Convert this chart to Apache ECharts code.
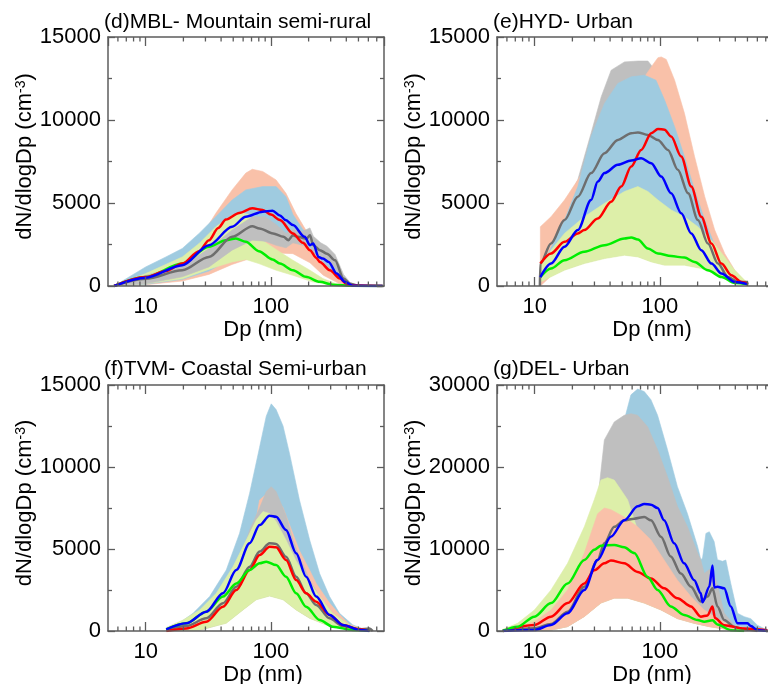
<!DOCTYPE html>
<html><head><meta charset="utf-8">
<script src="https://cdn.jsdelivr.net/npm/echarts@6/dist/echarts.min.js"></script>
<style>html,body{margin:0;padding:0;background:#fff}#c{width:768px;height:684px}</style>
</head><body><div id="c"></div>
<script>
// ---------------- DATA (Dp in nm, dN/dlogDp in cm^-3) ----------------
// (d) MBL
const mbl_red = [[5.6,0],[10,540],[14.5,900],[19.6,1350],[26.7,2100],[32,2760],[38,3500],[43.7,4000],[55.8,4400],[71,4680],[86,4580],[100,4300],[118,3970],[150,3160],[180,2600],[205,2160],[230,1700],[246,1450],[296,950],[356,450],[400,140],[450,30],[780,0]];
const mbl_blue = [[5.6,0],[10,500],[19.6,1250],[32,2460],[49,3570],[63,4170],[86,4480],[103,4540],[118,4250],[131,3970],[150,3670],[186,2960],[205,2460],[218,2560],[240,1750],[260,1650],[289,1450],[335,750],[391,240],[450,20],[780,0]];
const mbl_gray = [[5.6,0],[10,440],[19.6,950],[32,1750],[49,2960],[71,3600],[81,3470],[104,3160],[126,2960],[138,2760],[150,3060],[164,2960],[193,2860],[205,3060],[218,2460],[246,2160],[280,1950],[325,1550],[380,450],[428,140],[500,20],[780,0]];
const mbl_green = [[5.6,0],[10,540],[19.6,1350],[32,2360],[43.7,2760],[52.5,2860],[63,2660],[80,2100],[103,1600],[118,1350],[150,950],[190,550],[246,250],[311,80],[450,10],[780,0]];
const mbl_redUp = [[5.6,0],[10,750],[19.6,1750],[26.7,2760],[36.3,4380],[49,5790],[63,6800],[71,7030],[86,6900],[110,6390],[132,5580],[158,4380],[190,3370],[215,2760],[244,2000],[311,1150],[420,200],[500,0]];
const mbl_redLo = [[5.6,0],[10,80],[19.6,300],[32,700],[49,1300],[71,1700],[100,2000],[150,1950],[205,1400],[262,650],[350,150],[500,0]];
const mbl_blueUp = [[5.6,0],[10,1150],[14.5,1750],[19.6,2260],[26.7,3170],[36.3,4170],[49,5180],[63,5790],[86,5990],[110,5990],[132,5380],[150,4300],[180,3400],[205,3000],[230,2300],[270,2450],[300,1900],[340,1300],[400,200],[450,0]];
const mbl_blueLo = [[5.6,0],[10,100],[19.6,400],[32,900],[49,1700],[71,2500],[100,2800],[150,2700],[205,2300],[250,1600],[300,1000],[400,50],[450,0]];
const mbl_greenUp = [[5.6,0],[10,750],[19.6,1750],[26.7,2560],[36.3,3570],[49,4270],[58,4430],[66,4300],[75,3600],[81,2860],[118,2050],[150,1550],[205,950],[260,450],[330,140],[450,0]];
const mbl_greenLo = [[5.6,0],[10,140],[19.6,440],[36.3,1150],[49,1450],[63,1600],[80,1350],[110,950],[149,650],[215,250],[311,50],[450,0]];
const mbl_grayUp = [[5.6,0],[10,650],[19.6,1200],[32,2260],[49,3370],[71,4170],[90,4170],[110,3700],[132,3170],[150,3400],[180,3300],[205,3500],[218,3000],[250,2600],[280,2400],[325,1900],[380,700],[430,200],[500,0]];
const mbl_grayLo = [[5.6,0],[10,140],[19.6,550],[32,1150],[49,2160],[71,2760],[90,2700],[110,2450],[132,2300],[150,2600],[180,2450],[205,2600],[218,2000],[250,1700],[280,1500],[325,1100],[380,250],[430,50],[500,0]];

// (e) HYD
const hyd_red = [[11.1,1350],[13.5,1960],[17.3,2660],[22.1,3170],[24.9,3370],[31.9,4070],[40.8,5080],[49.1,5990],[59,7200],[70.9,8200],[85.3,9200],[96.4,9460],[109,9420],[123,9000],[148,7800],[178,5990],[214,4170],[258,2560],[310,1350],[372,650],[448,240],[506,140]];
const hyd_blue = [[11.1,540],[13.5,1350],[17.3,2360],[22.1,3370],[28.2,5180],[31.9,6290],[36.1,6800],[46.1,7300],[59,7560],[70.9,7700],[85.3,7400],[102.5,6590],[123,5580],[148,4380],[178,3170],[214,2160],[258,1350],[310,750],[396,240],[506,100]];
const hyd_gray = [[11.0,0],[11.1,1350],[13.5,2560],[17.3,3970],[22.1,5380],[28.2,6800],[36.1,8000],[46.1,8800],[59,9200],[66.7,9250],[80.2,9100],[96.4,8800],[116,8200],[139,7000],[168,5580],[201,3970],[242,2560],[291,1350],[350,540],[421,240],[506,240]];
const hyd_green = [[11.1,540],[13.5,1050],[17.3,1550],[24.9,2060],[36.1,2460],[52.1,2860],[59,2920],[66.7,2800],[80.2,2260],[96.4,1960],[123,1800],[157,1710],[189,1450],[242,950],[310,540],[396,180],[506,100]];
const hyd_grayUp = [[11.1,1500],[17.3,4800],[22.1,6400],[28.2,9200],[34,11400],[40.8,13000],[52.1,13500],[66.7,13550],[80.2,13550],[85.3,13300],[96.4,12700],[110,11500],[140,8500],[180,5500],[230,3000],[300,1400],[400,400],[506,100]];
const hyd_grayLo = [[11.1,300],[17.3,1000],[24.9,1400],[36.1,1700],[52.1,1900],[66.7,1800],[85.3,1500],[109,1300],[157,1300],[214,1100],[291,700],[396,260],[506,60]];
const hyd_redUp = [[11.1,3570],[13.5,4170],[17.3,5180],[22.1,6390],[24.9,7000],[30,8500],[40,10500],[50,11500],[60,12000],[75.4,12600],[85.3,13200],[96.4,13750],[102.5,13800],[112.4,13650],[131,12400],[157,10400],[189,7800],[228,5380],[274,3370],[329,1960],[396,950],[476,300],[506,150]];
const hyd_redLo = [[11.1,0],[13.5,600],[17.3,1000],[24.9,1400],[36.1,1700],[52.1,1900],[66.7,1800],[85.3,1500],[109,1300],[157,1300],[214,1100],[291,700],[396,260],[506,60]];
const hyd_blueUp = [[11.1,1000],[17.3,3970],[22.1,5990],[28.2,9000],[36.1,11000],[46.1,12200],[59,12600],[75.4,12700],[93,12400],[109,11200],[131,9600],[157,7800],[189,5790],[228,3970],[274,2460],[329,1350],[396,540],[476,200],[506,100]];
const hyd_blueLo = [[11.1,300],[17.3,1000],[24.9,1400],[36.1,1700],[52.1,1900],[66.7,1800],[85.3,1500],[109,1300],[157,1300],[214,1100],[291,700],[396,260],[506,60]];
const hyd_greenUp = [[11.1,1150],[13.5,2160],[17.3,3170],[24.9,4170],[36.1,4980],[52.1,5690],[66.7,5990],[80.2,5690],[96.4,5180],[123,4580],[157,4170],[201,3570],[258,2760],[329,1750],[396,950],[476,350],[506,200]];
const hyd_greenLo = [[11.1,240],[17.3,950],[24.9,1350],[36.1,1650],[52.1,1850],[66.7,1750],[85.3,1450],[109,1250],[157,1250],[214,1050],[291,650],[396,240],[506,50]];

// (f) TVM
const tvm_red = [[14.6,0],[21.1,160],[30.5,570],[41.4,1480],[52.9,2500],[67.6,3720],[81.2,4630],[97.6,5140],[110,5100],[132,4330],[159,3110],[191,2300],[230,1790],[294,980],[375,370],[510,100],[612,0]];
const tvm_blue = [[14.6,100],[21.1,470],[30.5,1180],[41.4,2300],[52.9,3720],[67.6,5350],[81.2,6460],[97.6,7030],[110,6970],[132,6160],[159,4740],[191,3310],[230,2100],[294,980],[375,370],[510,60],[612,0]];
const tvm_gray = [[14.6,60],[21.1,300],[30.5,770],[41.4,1690],[52.9,2700],[67.6,3920],[81.2,4840],[97.6,5350],[110,5310],[132,4530],[159,3310],[191,2300],[230,1590],[294,770],[375,300],[510,100],[612,160],[651,0]];
const tvm_green = [[14.6,100],[21.1,470],[30.5,1180],[41.4,2100],[52.9,2900],[67.6,3720],[81.2,4130],[91.8,4230],[110,4020],[132,3310],[159,2300],[191,1480],[245,670],[312,260],[451,60],[612,0]];
const tvm_blueUp = [[14.6,0],[17.6,370],[23.9,1080],[32.4,2100],[44,3720],[56.2,5960],[67.6,8400],[81.2,11200],[91.8,13100],[100.6,13850],[110,13500],[125,12500],[141,10800],[169,7990],[204,5550],[245,3500],[294,2100],[353,1080],[451,370],[576,60],[612,0]];
const tvm_blueLo = [[14.6,0],[27,80],[44,520],[59.8,1320],[76.4,1950],[97.6,2170],[125,1950],[159,1320],[204,800],[276,400],[399,110],[576,0]];
const tvm_redUp = [[14.6,0],[23.9,200],[36.6,700],[49.8,2000],[67.6,4500],[81.2,7990],[100.6,8600],[125,7500],[169,4900],[204,3700],[230,2900],[294,1700],[353,1000],[424,400],[576,50],[612,0]];
const tvm_redLo = [[14.6,0],[27,80],[44,520],[59.8,1320],[76.4,1950],[97.6,2170],[125,1950],[159,1320],[204,800],[276,400],[399,110],[576,0]];
const tvm_grayUp = [[14.6,0],[27,260],[36.6,1200],[49.8,3000],[67.6,6160],[81.2,7500],[91.8,8500],[100.6,8800],[110,8500],[132,7050],[150,5550],[169,4530],[204,3110],[245,2100],[312,1080],[424,370],[576,60],[651,0]];
const tvm_grayLo = [[14.6,0],[27,40],[44,500],[59.8,1300],[76.4,1930],[97.6,2150],[125,1930],[159,1300],[204,790],[276,390],[399,110],[576,0]];
const tvm_greenUp = [[14.6,220],[19.9,670],[27,1280],[36.6,2300],[49.8,3920],[63.6,5550],[76.4,6770],[86.4,7280],[97.6,7170],[110,6670],[132,5550],[159,4270],[191,3300],[245,2100],[312,1080],[424,370],[576,60],[651,0]];
const tvm_greenLo = [[14.6,0],[27,60],[44,470],[59.8,1280],[76.4,1900],[97.6,2130],[125,1900],[159,1280],[204,770],[276,370],[399,100],[576,0]];

// (g) DEL
const del_red = [[5.56,0],[9.94,730],[13.5,1750],[18.3,3400],[24.9,5800],[29.9,7400],[36,8250],[40.6,8600],[51.9,8250],[66.4,7200],[84.8,6400],[108,5200],[138,4000],[177,3000],[212,1750],[240,1900],[263,3000],[275,1600],[326,700],[471,300],[722,100]];
const del_blue = [[5.56,0],[9.94,120],[13.5,730],[18.3,2150],[24.9,5000],[31.8,8660],[40.6,11500],[51.9,13500],[66.4,15200],[75,15500],[84.8,15400],[95.8,15000],[108,13500],[130,10700],[156,8250],[188,6200],[212,4600],[219,3500],[248,5400],[263,8000],[272,5300],[288,5400],[326,5200],[368,3000],[417,930],[501,930],[532,600],[601,100],[722,0]];
const del_gray = [[5.56,0],[9.94,330],[13.5,850],[18.3,2360],[24.9,5400],[31.8,8660],[36,10700],[43.2,12700],[51.9,13500],[62.4,13700],[75,13900],[84.8,13500],[102,11500],[122,9100],[147,7000],[177,5400],[212,3600],[240,4200],[263,5200],[288,3000],[326,1340],[392,500],[471,200],[601,0]];
const del_green = [[5.56,0],[7.3,530],[9.94,1750],[13.5,3400],[18.3,5800],[24.9,8660],[29.9,9900],[33.8,10400],[43.2,10500],[51.9,10200],[62.4,9500],[79.8,6600],[95.8,5000],[122,3000],[156,1950],[200,1340],[226,1140],[263,1300],[288,800],[368,100],[471,0]];
const del_blueUp = [[5.56,0],[9.94,330],[13.5,930],[18.3,2150],[24.9,5000],[33.8,10300],[43.2,18400],[51.9,25700],[58.7,28800],[66.4,29500],[75,29200],[84.8,28200],[95.8,26300],[115,22100],[138,17600],[166,14300],[200,10300],[212,8700],[219,8900],[233,11900],[248,12100],[271,10900],[288,8700],[316,8500],[336,8660],[368,5800],[417,2150],[471,1750],[532,1500],[601,700],[722,100],[790,0]];
const del_blueLo = [[5.56,0],[13.5,120],[18.3,550],[24.9,1800],[33.8,3450],[43.2,4050],[55.2,4050],[75,3450],[102,2600],[138,1550],[188,960],[248,560],[368,140],[722,0]];
const del_grayUp = [[5.56,0],[13.5,400],[18.3,1300],[24.9,4000],[29.9,12000],[33.8,19500],[36,23300],[43.2,25500],[51.9,26300],[58.7,26500],[66.4,26300],[79.8,24900],[95.8,22100],[115,18800],[138,15200],[166,12700],[200,9500],[212,8660],[226,7000],[248,7500],[268,7000],[288,5600],[326,2200],[392,700],[471,300],[601,0]];
const del_grayLo = [[5.56,0],[13.5,120],[18.3,550],[24.9,1800],[33.8,3450],[43.2,4050],[55.2,4050],[75,3450],[102,2600],[138,1550],[188,960],[248,560],[368,140],[601,0]];
const del_greenUp = [[5.56,200],[7.3,930],[9.94,2560],[13.5,5000],[18.3,8250],[24.9,12700],[29.9,16000],[33.8,18400],[38.2,18700],[43.2,18400],[48.9,17200],[55.2,16000],[66.4,12300],[84.8,9500],[108,7000],[138,4500],[177,2900],[226,1800],[288,800],[392,200],[532,0]];
const del_greenLo = [[5.56,0],[13.5,120],[18.3,540],[24.9,1780],[33.8,3420],[43.2,4020],[55.2,4020],[75,3420],[102,2580],[138,1520],[188,940],[248,540],[368,130],[532,0]];
const del_redUp = [[5.56,0],[9.94,1140],[13.5,2560],[18.3,5000],[24.9,9500],[31.8,14300],[36,15000],[40.6,14800],[51.9,13900],[66.4,12700],[84.8,11100],[108,8660],[138,6200],[177,4200],[226,2560],[288,1500],[368,700],[532,300],[722,0]];
const del_redLo = [[5.56,0],[13.5,120],[18.3,530],[24.9,1750],[33.8,3400],[43.2,4000],[55.2,4000],[75,3400],[102,2560],[138,1500],[188,930],[248,530],[368,120],[722,0]];

// axis ticks
const xMin = 5, xMax = 800;
const xMajorLabels = [10, 100];
const xMinorTicks = [6,7,8,9,20,30,40,50,60,70,80,90,200,300,400,500,600,700];

// ---------------- STYLE / LAYOUT ----------------
const FONT = '"Liberation Sans", Arial, Helvetica, sans-serif';
const AXIS_COLOR = '#5c5c5c';
const LINE_COLORS = {red:'#ff0000', blue:'#0000ff', gray:'#6e6e6e', green:'#00ee00'};
const BAND_COLORS = {red:'#f9c1a9', blue:'#9fcbe0', gray:'#bfbfbf', green:'#ddefa9'};

const panels = [
  {title:'(d)MBL- Mountain semi-rural', tl:[104,12], grid:{left:108,top:37,width:276,height:249}, yMax:15000, yInt:5000,
   bands:[['red',mbl_redUp,mbl_redLo],['blue',mbl_blueUp,mbl_blueLo],['green',mbl_greenUp,mbl_greenLo],['gray',mbl_grayUp,mbl_grayLo]],
   lines:[['green',mbl_green],['gray',mbl_gray],['red',mbl_red],['blue',mbl_blue]]},
  {title:'(e)HYD- Urban', tl:[493,12], grid:{left:497,top:37,width:276,height:249}, yMax:15000, yInt:5000,
   bands:[['gray',hyd_grayUp,hyd_grayLo],['red',hyd_redUp,hyd_redLo],['blue',hyd_blueUp,hyd_blueLo],['green',hyd_greenUp,hyd_greenLo]],
   lines:[['green',hyd_green],['gray',hyd_gray],['red',hyd_red],['blue',hyd_blue]]},
  {title:'(f)TVM- Coastal Semi-urban', tl:[104,359], grid:{left:108,top:385,width:276,height:246}, yMax:15000, yInt:5000,
   bands:[['blue',tvm_blueUp,tvm_blueLo],['red',tvm_redUp,tvm_redLo],['gray',tvm_grayUp,tvm_grayLo],['green',tvm_greenUp,tvm_greenLo]],
   lines:[['gray',tvm_gray],['red',tvm_red],['green',tvm_green],['blue',tvm_blue]]},
  {title:'(g)DEL- Urban', tl:[493,359], grid:{left:497,top:385,width:276,height:246}, yMax:30000, yInt:10000,
   bands:[['blue',del_blueUp,del_blueLo],['gray',del_grayUp,del_grayLo],['green',del_greenUp,del_greenLo],['red',del_redUp,del_redLo]],
   lines:[['gray',del_gray],['red',del_red],['green',del_green],['blue',del_blue]]}
];

const tickStyle = {color:AXIS_COLOR, width:1.3};
const axisLine = {show:true, onZero:false, lineStyle:{color:AXIS_COLOR, width:1.5}};
const option = {animation:false, backgroundColor:'#fff', title:[], grid:[], xAxis:[], yAxis:[], series:[]};

panels.forEach((p, i) => {
  option.title.push({text:p.title, left:p.tl[0], top:p.tl[1], padding:0,
    textStyle:{fontFamily:FONT, fontSize:21, fontWeight:'normal', color:'#000'}});
  option.grid.push(Object.assign({containLabel:false, outerBoundsMode:'none'}, p.grid));
  option.xAxis.push({gridIndex:i, type:'log', logBase:10, min:xMin, max:xMax, position:'bottom', z:10,
    axisLine, axisTick:{inside:true, length:9, lineStyle:tickStyle},
    axisLabel:{showMinLabel:false, showMaxLabel:false, fontFamily:FONT, fontSize:22, color:'#000', margin:10,
      formatter:v => xMajorLabels.indexOf(Math.round(v)) >= 0 ? String(Math.round(v)) : ''},
    splitLine:{show:false},
    name:'Dp (nm)', nameLocation:'middle', nameGap:31,
    nameTextStyle:{fontFamily:FONT, fontSize:22, color:'#000', padding:[0,0,0,34]}});
  option.xAxis.push({gridIndex:i, type:'log', logBase:10, min:xMin, max:xMax, position:'top', z:10,
    axisLine, axisTick:{inside:true, length:9, lineStyle:tickStyle}, axisLabel:{show:false}, splitLine:{show:false}});
  option.yAxis.push({gridIndex:i, type:'value', min:0, max:p.yMax, interval:p.yInt, position:'left', z:10,
    axisLine, axisTick:{inside:true, length:7, lineStyle:tickStyle},
    minorTick:{show:true, splitNumber:2, length:4, lineStyle:tickStyle},
    axisLabel:{fontFamily:FONT, fontSize:22, color:'#000', margin:7, formatter:v => String(v)},
    splitLine:{show:false}, minorSplitLine:{show:false},
    name:'dN/dlogDp (cm{sup|-3})', nameLocation:'middle', nameGap:63,
    nameTextStyle:{fontFamily:FONT, fontSize:22, color:'#000', padding:[0,0,0,10],
      rich:{sup:{fontFamily:FONT, fontSize:14, lineHeight:14, verticalAlign:'top', color:'#000'}}}});
  option.yAxis.push({gridIndex:i, type:'value', min:0, max:p.yMax, interval:p.yInt, position:'right', z:10,
    axisLine, axisTick:{inside:true, length:7, lineStyle:tickStyle},
    minorTick:{show:true, splitNumber:2, length:4, lineStyle:tickStyle},
    axisLabel:{show:false}, splitLine:{show:false}, minorSplitLine:{show:false}});

  const xi = 2 * i, yi = 2 * i;
  p.bands.forEach(([c, up, lo]) => {
    option.series.push({type:'custom', xAxisIndex:xi, yAxisIndex:yi, silent:true, z:2, clip:true,
      data:[up[0]], encode:{x:0, y:1},
      renderItem:(params, api) => {
        const pts = up.map(d => api.coord(d)).concat(lo.slice().reverse().map(d => api.coord(d)));
        return {type:'polygon', shape:{points:pts}, style:{fill:BAND_COLORS[c], stroke:BAND_COLORS[c], lineWidth:0.6}};
      }});
  });
  p.lines.forEach(([c, d]) => {
    option.series.push({type:'line', xAxisIndex:xi, yAxisIndex:yi, data:d, symbol:'none', showSymbol:false,
      smooth:0.3, smoothMonotone:'x', silent:true, z:3, clip:true,
      lineStyle:{color:LINE_COLORS[c], width:2.5}});
  });
  option.series.push({type:'custom', xAxisIndex:xi, yAxisIndex:yi, silent:true, z:12, clip:false,
    data:xMinorTicks.map(v => [v, 0]), encode:{x:0, y:1},
    renderItem:(params, api) => {
      const cs = params.coordSys;
      const x = api.coord([api.value(0), 0])[0];
      const st = {stroke:AXIS_COLOR, lineWidth:1.3};
      return {type:'group', children:[
        {type:'line', shape:{x1:x, y1:cs.y + cs.height, x2:x, y2:cs.y + cs.height - 4.5}, style:st},
        {type:'line', shape:{x1:x, y1:cs.y, x2:x, y2:cs.y + 4.5}, style:st}
      ]};
    }});
});

const chart = echarts.init(document.getElementById('c'), null, {renderer:'canvas'});
chart.setOption(option);
</script>
</body></html>
